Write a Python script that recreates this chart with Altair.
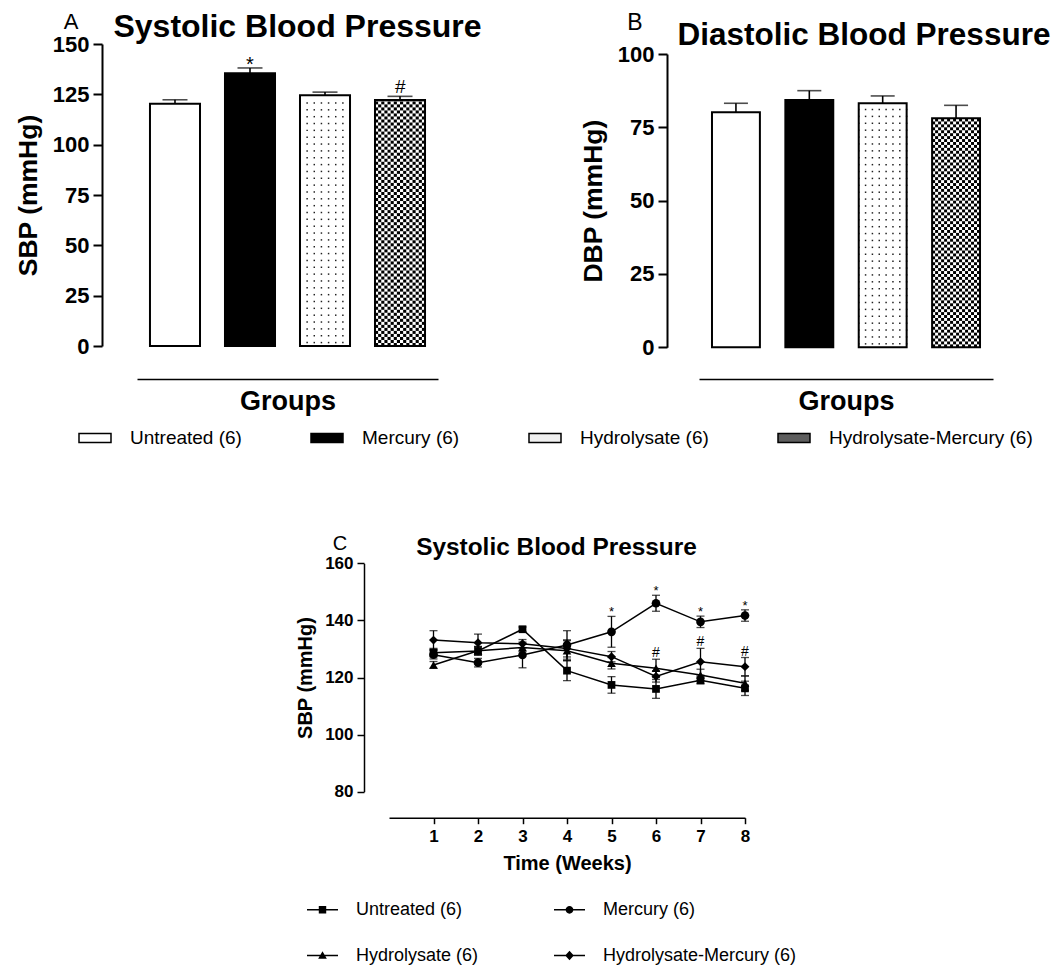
import altair as alt
import pandas as pd

FONT = "Liberation Sans"

# ---------------- data ----------------
groups = ["Untreated (6)", "Mercury (6)", "Hydrolysate (6)", "Hydrolysate-Mercury (6)"]
series_names = ["Untreated", "Mercury", "Hydrolysate", "Hydrolysate-Mercury"]
bar_colors = ["#ffffff", "#000000", "#ffffff", "#ffffff"]
legend_colors = ["#ffffff", "#000000", "#f0f0f0", "#5e5e5e"]

sbp_mean = [120.3, 135.5, 124.5, 122.2]
sbp_sem = [2.0, 2.6, 1.6, 1.8]
sbp_marks = ["", "*", "", "#"]

dbp_mean = [80.1, 84.3, 83.2, 78.1]
dbp_sem = [3.1, 3.2, 2.5, 4.4]
dbp_marks = ["", "", "", ""]

weeks = [1, 2, 3, 4, 5, 6, 7, 8]
untreated_sbp = [128.7, 129.3, 136.9, 122.4, 117.4, 116.0, 119.0, 116.2]
untreated_sem = [1.5, 1.5, 0.8, 3.5, 2.9, 3.3, 1.2, 2.5]
mercury_sbp = [128.0, 125.2, 127.9, 131.4, 136.0, 146.0, 139.5, 141.7]
mercury_sem = [1.5, 1.5, 4.5, 5.0, 5.4, 2.8, 2.0, 2.0]
hydrolysate_sbp = [124.4, 129.4, 130.5, 129.4, 125.0, 123.2, 120.9, 118.0]
hydrolysate_sem = [1.2, 1.5, 1.5, 3.5, 2.0, 3.2, 2.0, 2.5]
hm_sbp = [133.1, 132.2, 131.8, 130.2, 127.3, 120.4, 125.5, 123.8]
hm_sem = [3.3, 3.0, 1.5, 3.0, 1.8, 2.0, 4.7, 3.2]
point_shapes = ["square", "circle", "triangle-up", "diamond"]
point_sizes = [60, 75, 75, 80]

ann_week = [5, 6, 7, 8, 6, 7, 8]
ann_anchor = [141.4, 149.0, 141.5, 143.7, 126.4, 130.2, 127.0]
ann_text = ["*", "*", "*", "*", "#", "#", "#"]

RECT_PATH = "M-1,-0.28H1V0.28H-1Z"
LINE_PART = "M-1,-0.045L1,-0.045L1,0.045L-1,0.045Z"
legend_paths = [
    LINE_PART + "M-0.24,-0.24L0.24,-0.24L0.24,0.24L-0.24,0.24Z",
    LINE_PART + "M0.25,0A0.25,0.25,0,1,1,-0.25,0A0.25,0.25,0,1,1,0.25,0Z",
    LINE_PART + "M0,-0.27L0.28,0.21L-0.28,0.21Z",
    LINE_PART + "M0,-0.3L0.28,0L0,0.3L-0.28,0Z",
]

W, H = 1043, 957


def y_axis(offset, values, title, lsize, tsize, tick, lpad, tpad, width):
    return alt.Axis(orient="left", offset=offset, values=values, title=title, grid=False,
                    labelFont=FONT, labelFontSize=lsize, labelFontWeight="bold", labelColor="black",
                    labelPadding=lpad, titleFont=FONT, titleFontSize=tsize, titleFontWeight="bold",
                    titleColor="black", titlePadding=tpad, tickSize=tick, tickWidth=width,
                    tickColor="black", domainColor="black", domainWidth=width)


def bar_panel(means, sems, marks, ydomain, yvalues, xrange, yrange, yoff, ytitle, pin, pout, cap,
              check_cell, dot_step):
    df = pd.DataFrame({
        "group": groups,
        "mean": means,
        "top": [m + s for m, s in zip(means, sems)],
        "fill": bar_colors,
        "mark": marks,
    })

    def xs():
        return alt.Scale(domain=groups, range=xrange, paddingInner=pin, paddingOuter=pout)

    def ys():
        return alt.Scale(domain=ydomain, range=yrange, nice=False, zero=True)

    def X(axis=None):
        return alt.X("group:N", scale=xs(), axis=axis)

    def Y(field, axis=None):
        return alt.Y(field, scale=ys(), axis=axis)

    xa = alt.Axis(orient="bottom", offset=371 - H, labels=False, ticks=False, grid=False,
                  domainColor="black", domainWidth=1.5, title="Groups", titleFont=FONT,
                  titleFontSize=27, titleFontWeight="bold", titleColor="black", titlePadding=9)
    ya = y_axis(yoff, yvalues, ytitle, 22, 26.5, 9, 4, 10, 2)

    # texture cells for the checkered bar (Hydrolysate-Mercury)
    hm_mean = means[3]
    crow = []
    k = 0
    while k * check_cell < hm_mean:
        y0 = k * check_cell
        y1 = min((k + 1) * check_cell, hm_mean)
        for c in range(16):
            if (k + c) % 2 == 0:
                crow.append({"group": groups[3], "col": c, "y0": y0, "y1": y1})
        k += 1
    dfCheck = pd.DataFrame(crow)

    # texture dots for the dotted bar (Hydrolysate)
    hy_mean = means[2]
    drow = []
    k = 0
    while (k + 0.5) * dot_step < hy_mean - dot_step * 0.3:
        for c in range(8):
            drow.append({"group": groups[2], "col": c, "yv": (k + 0.5) * dot_step})
        k += 1
    dfDots = pd.DataFrame(drow)

    base = alt.Chart(df)
    bars = base.mark_bar(strokeWidth=0).encode(
        x=X(xa), y=Y("mean:Q", ya), fill=alt.Fill("fill:N", scale=None))
    check = alt.Chart(dfCheck).mark_rect(color="black", strokeWidth=0).encode(
        x=X(),
        xOffset=alt.XOffset("col:O", scale=alt.Scale(domain=list(range(16)), paddingInner=0,
                                                      paddingOuter=0)),
        y=Y("y0:Q"), y2="y1:Q")
    dots = alt.Chart(dfDots).mark_square(size=2.2, color="#202020", opacity=1).encode(
        x=X(),
        xOffset=alt.XOffset("col:O", scale=alt.Scale(domain=list(range(8)), paddingInner=0,
                                                      paddingOuter=0)),
        y=Y("yv:Q"))
    outline = base.mark_bar(fillOpacity=0, stroke="black", strokeWidth=2).encode(
        x=X(), y=Y("mean:Q"))
    err = base.mark_rule(color="black", strokeWidth=1.6).encode(
        x=X(), y=Y("mean:Q"), y2="top:Q")
    caps = base.mark_tick(orient="horizontal", size=cap, thickness=1.6, color="black").encode(
        x=X(), y=Y("top:Q"))
    star = base.transform_filter(alt.datum.mark == "*").mark_text(
        font=FONT, fontSize=20, baseline="alphabetic", dy=3, color="black").encode(
        x=X(), y=Y("top:Q"), text="mark:N")
    hsh = base.transform_filter(alt.datum.mark == "#").mark_text(
        font=FONT, fontSize=19, baseline="alphabetic", dy=-3, color="black").encode(
        x=X(), y=Y("top:Q"), text="mark:N")
    return [bars, check, dots, outline, err, caps, star, hsh]


layersA = bar_panel(sbp_mean, sbp_sem, sbp_marks, [0, 150], [0, 25, 50, 75, 100, 125, 150],
                    [129, 430], [338, 36], -94, "SBP (mmHg)", 0.333, 0.173, 25, 1.5, 3.4)
layersB = bar_panel(dbp_mean, dbp_sem, dbp_marks, [0, 100], [0, 25, 50, 75, 100],
                    [691, 985], [339.3, 46], -659, "DBP (mmHg)", 0.347, 0.177, 24, 1.0, 2.35)

# ---------------- panel C ----------------
series = [untreated_sbp, mercury_sbp, hydrolysate_sbp, hm_sbp]
sems = [untreated_sem, mercury_sem, hydrolysate_sem, hm_sem]
rows = []
for g, vals, ss, shp, sz in zip(series_names, series, sems, point_shapes, point_sizes):
    for w, v, s in zip(weeks, vals, ss):
        rows.append({"series": g, "week": w, "sbp": v, "lo": v - s, "hi": v + s,
                     "shape": shp, "size": sz})
dfC = pd.DataFrame(rows)
dfAnn = pd.DataFrame({"week": ann_week, "anchor": ann_anchor, "text": ann_text})


def XC(axis=None):
    return alt.X("week:Q", scale=alt.Scale(domain=[0, 8], range=[381, 737], nice=False, zero=False),
                 axis=axis)


def YC(field, axis=None):
    return alt.Y(field, scale=alt.Scale(domain=[80, 160], range=[783.7, 555.3], nice=False,
                                        zero=False), axis=axis)


xaC = alt.Axis(orient="bottom", offset=809.7 - H, values=weeks, format="d", grid=False,
               labelFont=FONT, labelFontSize=17, labelFontWeight="bold", labelColor="black",
               labelPadding=5, labelFlush=False, tickSize=6, tickWidth=1.5, tickColor="black",
               domainColor="black", domainWidth=1.5, title="Time (Weeks)", titleFont=FONT,
               titleFontSize=20, titleFontWeight="bold", titleColor="black", titlePadding=9)
yaC = y_axis(-356, [80, 100, 120, 140, 160], "SBP (mmHg)", 17, 20, 7, 4, 9, 1.5)

baseC = alt.Chart(dfC)
linesC = baseC.mark_line(color="black", strokeWidth=1.5).encode(
    x=XC(xaC), y=YC("sbp:Q", yaC), detail="series:N")
errC = baseC.mark_rule(color="black", strokeWidth=1.3).encode(
    x=XC(), y=YC("lo:Q"), y2="hi:Q")
capLoC = baseC.mark_tick(orient="horizontal", size=8, thickness=1.3, color="black").encode(
    x=XC(), y=YC("lo:Q"))
capHiC = baseC.mark_tick(orient="horizontal", size=8, thickness=1.3, color="black").encode(
    x=XC(), y=YC("hi:Q"))
ptsC = baseC.mark_point(filled=True, color="black", opacity=1).encode(
    x=XC(), y=YC("sbp:Q"),
    shape=alt.Shape("shape:N", scale=None),
    size=alt.Size("size:Q", scale=None))
annStar = alt.Chart(dfAnn).transform_filter(alt.datum.text == "*").mark_text(
    font=FONT, fontSize=13, baseline="alphabetic", dy=0, color="black").encode(
    x=XC(), y=YC("anchor:Q"), text="text:N")
annHash = alt.Chart(dfAnn).transform_filter(alt.datum.text == "#").mark_text(
    font=FONT, fontSize=14, baseline="alphabetic", dy=-2, color="black").encode(
    x=XC(), y=YC("anchor:Q"), text="text:N")
layersC = [linesC, errC, capLoC, capHiC, ptsC, annStar, annHash]

# ---------------- legends ----------------
legAB = alt.Chart(pd.DataFrame({"group": groups})).mark_point(
    filled=True, shape=RECT_PATH, opacity=0).encode(
    fill=alt.Fill("group:N", scale=alt.Scale(domain=groups, range=legend_colors),
                  legend=alt.Legend(orient="none", legendX=70, legendY=413, direction="horizontal",
                                    columns=4, columnPadding=66, title=None, padding=0,
                                    symbolType=RECT_PATH, symbolSize=1024, symbolOpacity=1,
                                    symbolStrokeColor="black", symbolStrokeWidth=1.5,
                                    labelFont=FONT, labelFontSize=19, labelColor="black",
                                    labelOffset=18, labelLimit=400))
)
legC = alt.Chart(pd.DataFrame({"series": series_names})).mark_point(
    filled=True, fill="black", opacity=0).encode(
    shape=alt.Shape("series:N", scale=alt.Scale(domain=series_names, range=legend_paths),
                    legend=alt.Legend(orient="none", legendX=299, legendY=886, direction="horizontal",
                                      columns=2, columnPadding=75, rowPadding=21, title=None,
                                      padding=0, symbolSize=961, symbolOpacity=1,
                                      symbolFillColor="black", symbolStrokeWidth=0,
                                      labelFont=FONT, labelFontSize=18,
                                      labelColor="black", labelOffset=18, labelLimit=400,
                                      labelExpr="datum.label + ' (6)'"))
)


# ---------------- panel titles / letters ----------------
def label(txt, x, y, size, weight):
    return alt.Chart(pd.DataFrame({"t": [txt]})).mark_text(
        font=FONT, fontSize=size, fontWeight=weight, align="center", baseline="alphabetic",
        color="black").encode(text="t:N", x=alt.value(x), y=alt.value(y))


texts = [
    label("Systolic Blood Pressure", 289.5, 29, 32, "bold"),
    label("Diastolic Blood Pressure", 856, 37, 31.5, "bold"),
    label("Systolic Blood Pressure", 548.5, 547, 24.4, "bold"),
    label("A", 63, 20.5, 22, "normal"),
    label("B", 627, 22, 23, "normal"),
    label("C", 332, 542, 20, "normal"),
]

chart = alt.layer(*layersA, *layersB, *layersC, legAB, legC, *texts).resolve_scale(
    x="independent", y="independent", xOffset="independent"
).properties(
    width=W, height=H, autosize=alt.AutoSizeParams(type="none"), padding=0
).configure_view(stroke=None)

chart.save("out.html", embed_options={"renderer": "svg", "actions": False})
